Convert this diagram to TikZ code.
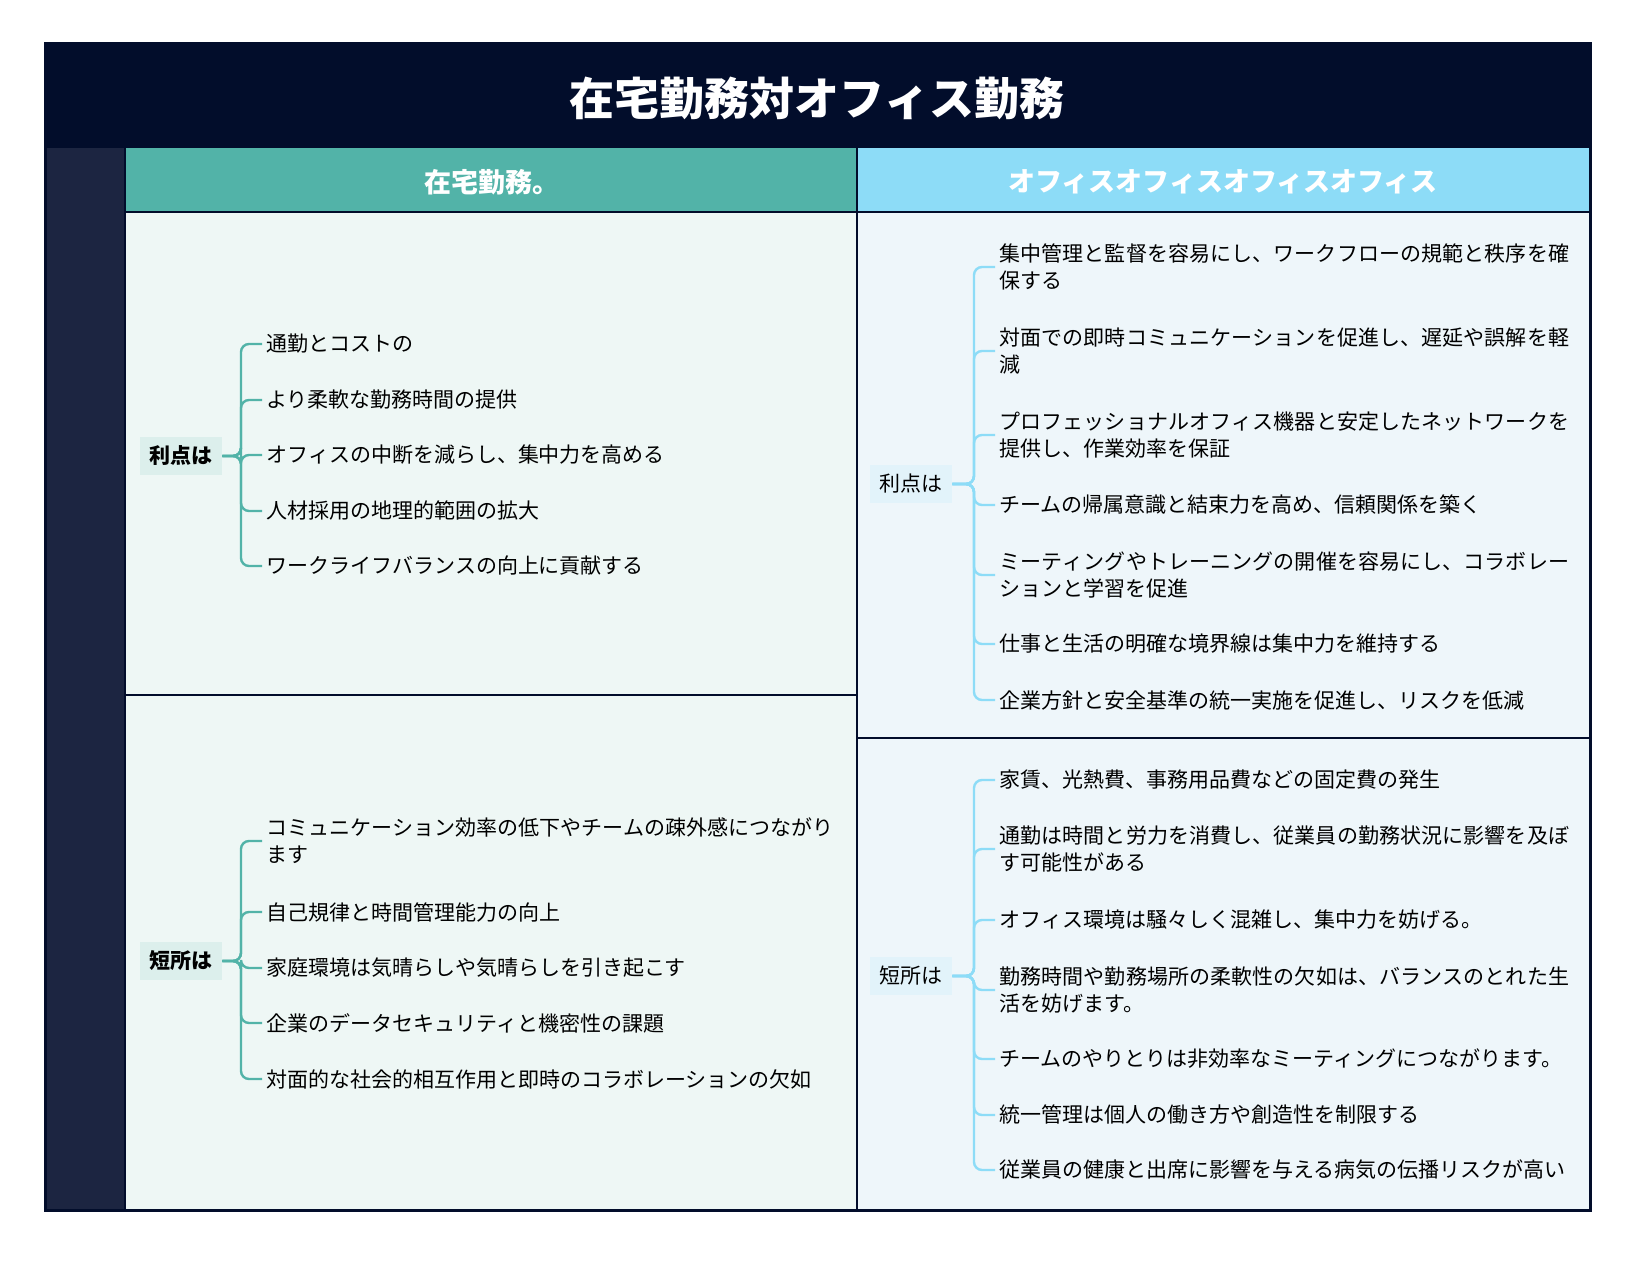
\documentclass[tikz,border=0pt]{standalone}
\usepackage{fontspec}
\setmainfont{Noto Sans CJK JP}
\XeTeXlinebreaklocale "ja"
\XeTeXlinebreakskip=0pt plus 1pt
\definecolor{navy}{HTML}{020D2B}
\definecolor{sidebar}{HTML}{1C2541}
\definecolor{teal}{HTML}{52B3A8}
\definecolor{sky}{HTML}{8DDCF7}
\definecolor{paleL}{HTML}{EEF7F5}
\definecolor{paleR}{HTML}{EEF6FA}
\definecolor{rootL}{HTML}{DCEFEC}
\definecolor{rootR}{HTML}{E2F3FA}
\tikzset{
  item/.style = {anchor=west, font=\fontsize{10.5}{13.5}\selectfont, align=left, inner sep=2pt},
  rootbox/.style = {font=\fontsize{10.5}{12}\selectfont, minimum width=41pt, minimum height=19pt, inner sep=1pt},
  brL/.style = {teal, line width=1.2pt, rounded corners=4pt},
  brR/.style = {sky, line width=1.2pt, rounded corners=4pt},
}
\begin{document}
\begin{tikzpicture}[x=0.5pt, y=-0.5pt]
	\useasboundingbox (0,0) rectangle (1636,1269);
	
	% 背景
	\fill [navy] (45, 43) rectangle (1590, 148);
	\fill [sidebar] (45, 148) rectangle (125, 1210);
	\fill [teal] (125, 148) rectangle (857, 212);
	\fill [sky] (857, 148) rectangle (1590, 212);
	\fill [paleL] (125, 212) rectangle (857, 1210);
	\fill [paleR] (857, 212) rectangle (1590, 1210);
	% lines
	\draw [navy, line width=1.5pt] (45, 43) rectangle (1590, 1210);
	\draw [navy, line width=1.2pt] (125, 148) -- (125, 1210);
	\draw [navy, line width=1.2pt] (857, 148) -- (857, 1210);
	\draw [navy, line width=1.2pt] (125, 212) -- (1590, 212);
	\draw [navy, line width=1.2pt] (125, 695) -- (857, 695);
	\draw [navy, line width=1.2pt] (857, 738) -- (1590, 738);
	
	% 見出し
	\node [white, font=\fontsize{22.5}{26}\selectfont\bfseries] (title) at (817, 98) {在宅勤務対オフィス勤務};
	\node [white, font=\fontsize{13.5}{15}\selectfont\bfseries] (homeHead) at (492, 182) {在宅勤務。};
	\node [white, font=\fontsize{13.5}{15}\selectfont\bfseries] (officeHead) at (1223, 182) {オフィスオフィスオフィスオフィス};
	
	% 左上
	\node [rootbox, fill=rootL, font=\fontsize{10.5}{12}\selectfont\bfseries] (homePro) at (181, 456) {利点は};
	\node [item] (hp1) at (262, 344) {通勤とコストの};
	\node [item] (hp2) at (262, 400) {より柔軟な勤務時間の提供};
	\node [item] (hp3) at (262, 455) {オフィスの中断を減らし、集中力を高める};
	\node [item] (hp4) at (262, 511) {人材採用の地理的範囲の拡大};
	\node [item] (hp5) at (262, 566) {ワークライフバランスの向上に貢献する};
	\foreach \i in {1,...,5}
		\draw [brL] (homePro.east) -- (241, 456) |- (hp\i.west);
	
	% 左下
	\node [rootbox, fill=rootL, font=\fontsize{10.5}{12}\selectfont\bfseries] (homeCon) at (181, 961) {短所は};
	\node [item, text width=284pt] (hc1) at (262, 841) {コミュニケーション効率の低下やチームの疎外感につながります};
	\node [item] (hc2) at (262, 912) {自己規律と時間管理能力の向上};
	\node [item] (hc3) at (262, 968) {家庭環境は気晴らしや気晴らしを引き起こす};
	\node [item] (hc4) at (262, 1023) {企業のデータセキュリティと機密性の課題};
	\node [item] (hc5) at (262, 1079) {対面的な社会的相互作用と即時のコラボレーションの欠如};
	\foreach \i in {1,...,5}
		\draw [brL] (homeCon.east) -- (241, 961) |- (hc\i.west);
	
	% 右上
	\node [rootbox, fill=rootR] (officePro) at (911, 484) {利点は};
	\node [item, text width=286pt] (op1) at (995, 267) {集中管理と監督を容易にし、ワークフローの規範と秩序を確保する};
	\node [item, text width=286pt] (op2) at (995, 351) {対面での即時コミュニケーションを促進し、遅延や誤解を軽減};
	\node [item, text width=286pt] (op3) at (995, 435) {プロフェッショナルオフィス機器と安定したネットワークを提供し、作業効率を保証};
	\node [item] (op4) at (995, 505) {チームの帰属意識と結束力を高め、信頼関係を築く};
	\node [item, text width=286pt] (op5) at (995, 575) {ミーティングやトレーニングの開催を容易にし、コラボレーションと学習を促進};
	\node [item] (op6) at (995, 644) {仕事と生活の明確な境界線は集中力を維持する};
	\node [item] (op7) at (995, 700) {企業方針と安全基準の統一実施を促進し、リスクを低減};
	\foreach \i in {1,...,7}
		\draw [brR] (officePro.east) -- (974, 484) |- (op\i.west);
	
	% 右下
	\node [rootbox, fill=rootR] (officeCon) at (911, 976) {短所は};
	\node [item] (oc1) at (995, 780) {家賃、光熱費、事務用品費などの固定費の発生};
	\node [item, text width=286pt] (oc2) at (995, 849) {通勤は時間と労力を消費し、従業員の勤務状況に影響を及ぼす可能性がある};
	\node [item] (oc3) at (995, 920) {オフィス環境は騒々しく混雑し、集中力を妨げる。};
	\node [item, text width=286pt] (oc4) at (995, 990) {勤務時間や勤務場所の柔軟性の欠如は、バランスのとれた生活を妨げます。};
	\node [item] (oc5) at (995, 1059) {チームのやりとりは非効率なミーティングにつながります。};
	\node [item] (oc6) at (995, 1115) {統一管理は個人の働き方や創造性を制限する};
	\node [item] (oc7) at (995, 1170) {従業員の健康と出席に影響を与える病気の伝播リスクが高い};
	\foreach \i in {1,...,7}
		\draw [brR] (officeCon.east) -- (974, 976) |- (oc\i.west);
\end{tikzpicture}
\end{document}
